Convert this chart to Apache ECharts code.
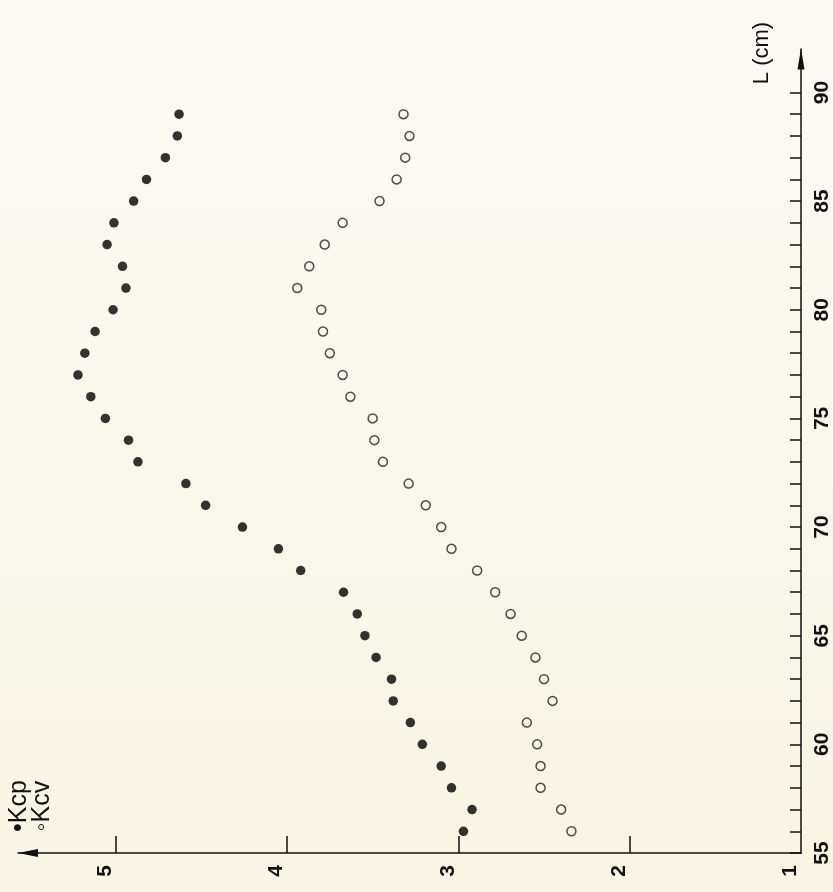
<!DOCTYPE html>
<html>
<head>
<meta charset="utf-8">
<script src="https://cdn.jsdelivr.net/npm/echarts@6/dist/echarts.min.js"></script>
<style>
  html, body { margin: 0; padding: 0; background: #fbf8ef; }
  #chart { width: 833px; height: 892px; }
</style>
</head>
<body>
<div id="chart"></div>
<script>
// Length classes (cm)
const lengths = [56,57,58,59,60,61,62,63,64,65,66,67,68,69,70,71,72,73,74,75,76,77,78,79,80,81,82,83,84,85,86,87,88,89];
// Kcp (filled dots)
const kcp = [2.97,2.92,3.04,3.10,3.21,3.28,3.38,3.39,3.48,3.545,3.59,3.67,3.92,4.05,4.26,4.475,4.59,4.87,4.925,5.06,5.145,5.22,5.18,5.12,5.015,4.94,4.96,5.05,5.01,4.895,4.82,4.71,4.64,4.63];
// Kcv (open circles)
const kcv = [2.34,2.40,2.52,2.52,2.54,2.60,2.45,2.50,2.55,2.63,2.695,2.785,2.89,3.04,3.10,3.19,3.29,3.44,3.49,3.50,3.63,3.675,3.75,3.79,3.80,3.94,3.87,3.78,3.675,3.46,3.36,3.31,3.285,3.32];
// Tick labels
const kTickLabels = [1,2,3,4,5];
const kTicks = [2,3,4,5];
const lTickLabels = [55,60,65,70,75,80,85,90];
const lTicks = [55,56,57,58,59,60,61,62,63,64,65,66,67,68,69,70,71,72,73,74,75,76,77,78,79,80,81,82,83,84,85,86,87,88,89,90];

const ink = '#111';
const labelFont = { color: ink, fontFamily: 'Liberation Sans, Arial, sans-serif', fontWeight: 'bold', fontSize: 21 };

const chart = echarts.init(document.getElementById('chart'), null, { renderer: 'canvas' });
chart.setOption({
  backgroundColor: {
    type: 'linear', x: 0, y: 0, x2: 0, y2: 1,
    colorStops: [{ offset: 0, color: '#fcfaf3' }, { offset: 1, color: '#f9f4e3' }]
  },
  animation: false,
  grid: { left: 18, right: 32, top: 49, bottom: 39, containLabel: false },
  xAxis: {
    type: 'value', inverse: true, min: 1, max: 5.57, position: 'bottom',
    splitLine: { show: false },
    axisLine: { show: true, onZero: false, symbol: ['triangle', 'none'], symbolSize: [8, 20], symbolOffset: [10, 0],
      lineStyle: { color: ink, width: 1.5 } },
    axisTick: { show: true, inside: true, length: 17, customValues: kTicks, lineStyle: { color: ink, width: 1.5 } },
    axisLabel: Object.assign({ show: true, rotate: 90, margin: 12, customValues: kTickLabels,
      align: 'right', verticalAlign: 'bottom' }, labelFont)
  },
  yAxis: {
    type: 'value', min: 55, max: 92, position: 'right',
    name: 'L (cm)', nameLocation: 'end', nameRotate: 90, nameGap: -4,
    nameTextStyle: { color: ink, fontFamily: 'Liberation Sans, Arial, sans-serif', fontSize: 22,
      align: 'center', verticalAlign: 'bottom', padding: [0, 0, 28, 0] },
    splitLine: { show: false },
    axisLine: { show: true, onZero: false, symbol: ['none', 'triangle'], symbolSize: [7, 21], symbolOffset: [0, -10],
      lineStyle: { color: ink, width: 1.5 } },
    axisTick: { show: true, inside: true, length: 11, customValues: lTicks, lineStyle: { color: ink, width: 1.5 } },
    axisLabel: Object.assign({ show: true, rotate: 90, margin: 11, customValues: lTickLabels,
      align: 'center', verticalAlign: 'top' }, labelFont)
  },
  graphic: [
    { type: 'text', x: 19, y: 806, rotation: Math.PI / 2,
      style: { text: '•Kcp', fontSize: 25, fontFamily: 'Liberation Sans, Arial, sans-serif', fill: ink, align: 'center', verticalAlign: 'middle' } },
    { type: 'text', x: 42, y: 806, rotation: Math.PI / 2,
      style: { text: '◦Kcv', fontSize: 25, fontFamily: 'Liberation Sans, Arial, sans-serif', fill: ink, align: 'center', verticalAlign: 'middle' } }
  ],
  series: [
    { name: 'Kcp', type: 'scatter', symbol: 'circle', symbolSize: 9.5,
      itemStyle: { color: '#000' },
      data: lengths.map((l, i) => [kcp[i], l]) },
    { name: 'Kcv', type: 'scatter', symbol: 'circle', symbolSize: 9,
      itemStyle: { color: 'rgba(0,0,0,0)', borderColor: '#222', borderWidth: 1.5 },
      data: lengths.map((l, i) => [kcv[i], l]) }
  ]
});
</script>
</body>
</html>
